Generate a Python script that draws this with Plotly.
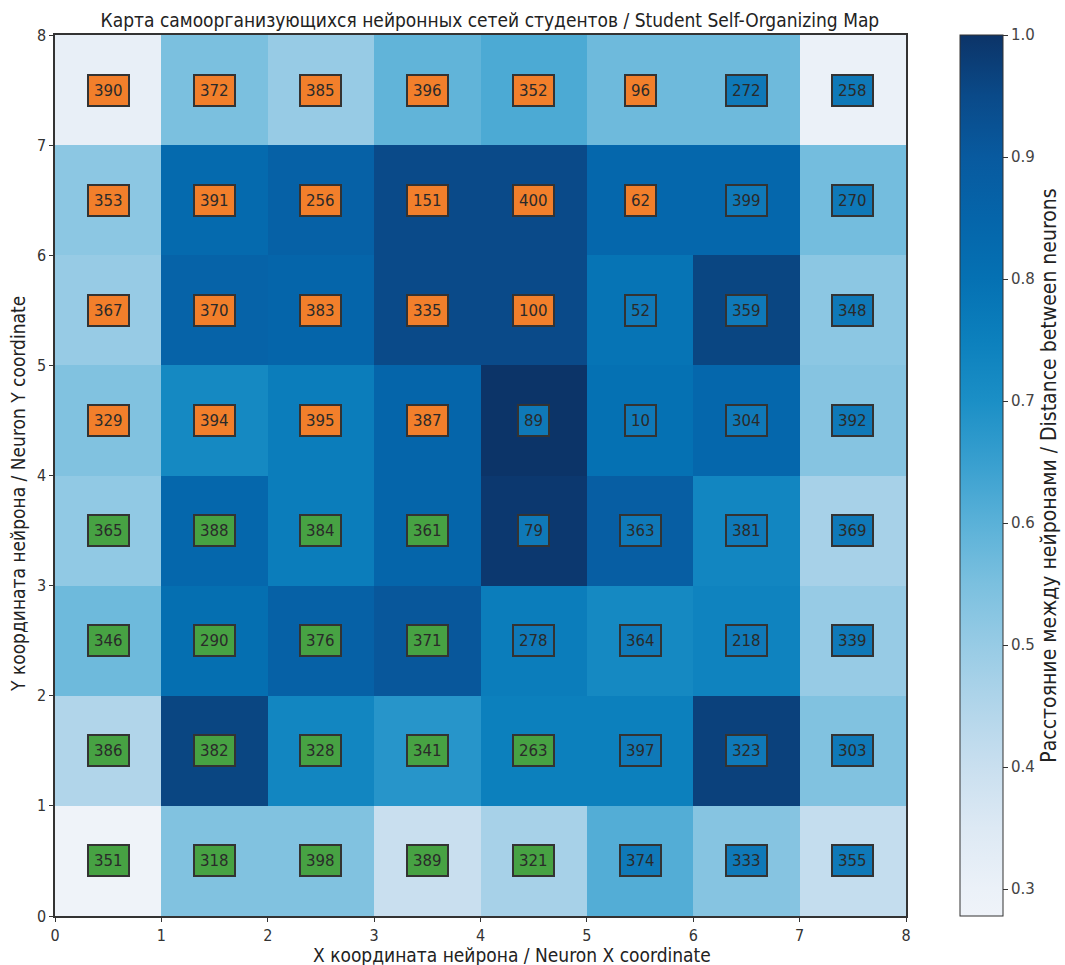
import plotly.graph_objects as go

# Grid coordinates (cell centres)
x_centers = [0.5, 1.5, 2.5, 3.5, 4.5, 5.5, 6.5, 7.5]
y_centers = [0.5, 1.5, 2.5, 3.5, 4.5, 5.5, 6.5, 7.5]

# Distance between neurons (U-matrix), rows from y=0 (bottom) to y=7 (top)
dist_y0 = [0.28, 0.54, 0.54, 0.40, 0.47, 0.61, 0.53, 0.41]
dist_y1 = [0.45, 0.96, 0.73, 0.68, 0.75, 0.75, 0.97, 0.54]
dist_y2 = [0.57, 0.81, 0.87, 0.91, 0.76, 0.72, 0.74, 0.50]
dist_y3 = [0.51, 0.84, 0.76, 0.85, 0.99, 0.88, 0.73, 0.47]
dist_y4 = [0.54, 0.72, 0.76, 0.85, 1.00, 0.80, 0.84, 0.53]
dist_y5 = [0.50, 0.86, 0.85, 0.95, 0.95, 0.79, 0.96, 0.52]
dist_y6 = [0.52, 0.83, 0.87, 0.95, 0.95, 0.84, 0.84, 0.56]
dist_y7 = [0.31, 0.55, 0.50, 0.59, 0.62, 0.57, 0.57, 0.30]

# Student ids shown on each neuron
ids_y0 = [351, 318, 398, 389, 321, 374, 333, 355]
ids_y1 = [386, 382, 328, 341, 263, 397, 323, 303]
ids_y2 = [346, 290, 376, 371, 278, 364, 218, 339]
ids_y3 = [365, 388, 384, 361, 79, 363, 381, 369]
ids_y4 = [329, 394, 395, 387, 89, 10, 304, 392]
ids_y5 = [367, 370, 383, 335, 100, 52, 359, 348]
ids_y6 = [353, 391, 256, 151, 400, 62, 399, 270]
ids_y7 = [390, 372, 385, 396, 352, 96, 272, 258]

# Cluster of the student on each neuron: "a" orange, "b" green, "c" blue
cl_y0 = ["b", "b", "b", "b", "b", "c", "c", "c"]
cl_y1 = ["b", "b", "b", "b", "b", "c", "c", "c"]
cl_y2 = ["b", "b", "b", "b", "c", "c", "c", "c"]
cl_y3 = ["b", "b", "b", "b", "c", "c", "c", "c"]
cl_y4 = ["a", "a", "a", "a", "c", "c", "c", "c"]
cl_y5 = ["a", "a", "a", "a", "a", "c", "c", "c"]
cl_y6 = ["a", "a", "a", "a", "a", "a", "c", "c"]
cl_y7 = ["a", "a", "a", "a", "a", "a", "c", "c"]

z = [dist_y0, dist_y1, dist_y2, dist_y3, dist_y4, dist_y5, dist_y6, dist_y7]
ids = [ids_y0, ids_y1, ids_y2, ids_y3, ids_y4, ids_y5, ids_y6, ids_y7]
clusters = [cl_y0, cl_y1, cl_y2, cl_y3, cl_y4, cl_y5, cl_y6, cl_y7]

cluster_colors = {"a": "#f27f2b", "b": "#47a243", "c": "#0f79b8"}

zmin, zmax = 0.278, 1.0
stops = [
    (0.278, "#eff3f9"), (0.30, "#ebf1f8"), (0.35, "#dde9f4"), (0.40, "#c9dfef"),
    (0.45, "#b1d5ea"), (0.50, "#97cbe5"), (0.55, "#7bc0df"), (0.60, "#5ab1d8"),
    (0.65, "#389fcf"), (0.70, "#1b8fc6"), (0.75, "#0c80bd"), (0.80, "#0571b3"),
    (0.85, "#0565aa"), (0.90, "#085a9f"), (0.95, "#0a4a89"), (1.00, "#0c3468"),
]
colorscale = [[(v - zmin) / (zmax - zmin), c] for v, c in stops]

font_main = "DejaVu Sans Condensed, Liberation Sans Narrow, DejaVu Sans"

fig = go.Figure()
fig.add_trace(go.Heatmap(
    x=x_centers, y=y_centers, z=z,
    colorscale=colorscale, zmin=zmin, zmax=zmax,
    colorbar=dict(
        x=1.0635, xanchor="left", xpad=0, y=0.5, yanchor="middle",
        len=1.0, lenmode="fraction", thickness=43, ypad=0,
        outlinecolor="#333", outlinewidth=1,
        tickvals=[0.3, 0.4, 0.5, 0.6, 0.7, 0.8, 0.9, 1.0],
        ticktext=["0.3", "0.4", "0.5", "0.6", "0.7", "0.8", "0.9", "1.0"],
        ticks="outside", ticklen=5, tickcolor="#333",
        tickfont=dict(family="DejaVu Sans", size=15, color="#444"),
        title=dict(text="Расстояние между нейронами / Distance between neurons",
                   side="right", font=dict(family=font_main, size=21, color="#222")),
    ),
    hoverinfo="skip",
))

annotations = []
for r in range(8):
    for c in range(8):
        annotations.append(dict(
            x=x_centers[c], y=y_centers[r], xref="x", yref="y",
            text=str(ids[r][c]), showarrow=False,
            font=dict(family="DejaVu Sans", size=15, color="#2a2a2a"),
            bgcolor=cluster_colors[clusters[r][c]], height=19,
            bordercolor="#333333", borderwidth=2, borderpad=5,
        ))

# Axis titles placed as paper annotations
annotations.append(dict(
    text="X координата нейрона / Neuron X coordinate", showarrow=False,
    xref="paper", yref="paper", x=0.5365, y=-0.0443, xanchor="center", yanchor="middle",
    font=dict(family=font_main, size=19, color="#222"),
))
annotations.append(dict(
    text="Y координата нейрона / Neuron Y coordinate", showarrow=False, textangle=-90,
    xref="paper", yref="paper", x=-0.0435, y=0.479, xanchor="center", yanchor="middle",
    font=dict(family=font_main, size=19, color="#222"),
))

fig.update_layout(
    width=1065, height=965,
    margin=dict(l=55, r=159, t=35, b=49, autoexpand=False),
    paper_bgcolor="white", plot_bgcolor="white",
    title=dict(text="Карта самоорганизующихся нейронных сетей студентов / Student Self-Organizing Map",
               x=0.46, xanchor="center", y=0.979, yanchor="middle",
               font=dict(family=font_main, size=19, color="#222")),
    annotations=annotations,
    xaxis=dict(range=[0, 8], tickvals=list(range(9)), showgrid=True,
               gridcolor="rgba(185,185,185,0.9)", gridwidth=1, layer="above traces",
               showline=True, mirror=True, linecolor="#333", linewidth=1.5,
               ticks="outside", ticklen=4, tickcolor="#333", zeroline=False,
               tickfont=dict(family=font_main, size=16, color="#333")),
    yaxis=dict(range=[0, 8], tickvals=list(range(9)), showgrid=True,
               gridcolor="rgba(185,185,185,0.9)", gridwidth=1, layer="above traces",
               showline=True, mirror=True, linecolor="#333", linewidth=1.5,
               ticks="outside", ticklen=4, tickcolor="#333", zeroline=False,
               tickfont=dict(family=font_main, size=16, color="#333")),
)

fig.write_html("out.html")
